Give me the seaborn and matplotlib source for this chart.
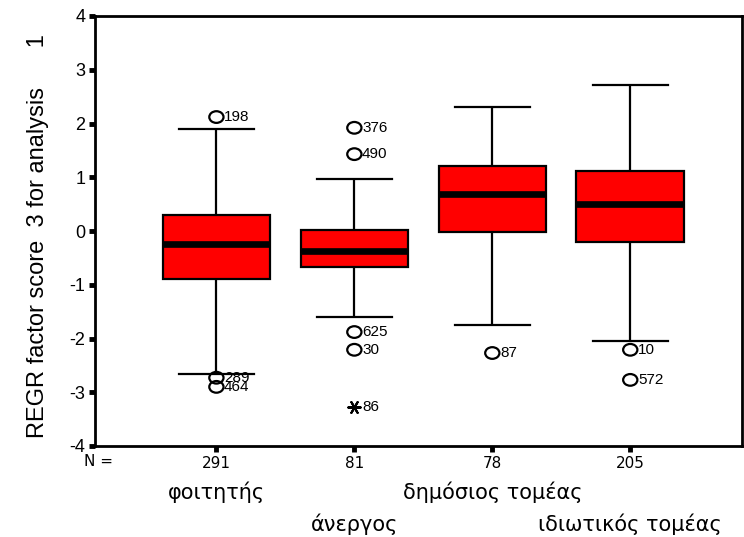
import numpy as np
import pandas as pd
import matplotlib
matplotlib.use("Agg")
import matplotlib.pyplot as plt
from matplotlib.path import Path
from matplotlib.transforms import Affine2D
import seaborn as sns

# Occupation groups and sample sizes
groups = ["φοιτητής", "άνεργος", "δημόσιος τομέας", "ιδιωτικός τομέας"]
counts = [291, 81, 78, 205]

# Five-number summaries of the factor score per group
whisker_low = [-2.66, -1.60, -1.75, -2.05]
quartile_1 = [-0.89, -0.67, -0.02, -0.20]
medians = [-0.25, -0.37, 0.69, 0.50]
quartile_3 = [0.30, 0.02, 1.21, 1.12]
whisker_high = [1.90, 0.97, 2.31, 2.72]

# Outlying cases (group index, score, case number, extreme flag)
outlier_group = [0, 0, 0, 1, 1, 1, 1, 1, 2, 3, 3]
outlier_value = [2.12, -2.73, -2.90, 1.92, 1.43, -1.88, -2.21, -3.27, -2.27, -2.21, -2.77]
outlier_case = ["198", "289", "464", "376", "490", "625", "30", "86", "87", "10", "572"]
outlier_extreme = [False, False, False, False, False, False, False, True, False, False, False]

plt.rcParams["font.family"] = ["Liberation Sans", "DejaVu Sans"]
plt.rcParams["axes.unicode_minus"] = False

# Long frame holding the summary points of every box
rows = []
for g, lo, q1, md, q3, hi in zip(groups, whisker_low, quartile_1, medians, quartile_3, whisker_high):
    for v in (lo, q1, md, q3, hi):
        rows.append({"group": g, "score": v})
box_df = pd.DataFrame(rows)

out_df = pd.DataFrame({
    "pos": outlier_group,
    "score": outlier_value,
    "case": outlier_case,
    "extreme": outlier_extreme,
})

fig = plt.figure(figsize=(7.44, 5.37), dpi=100)
ax = fig.add_axes([95 / 744, 1 - 446 / 537, 647 / 744, 430 / 537])

sns.boxplot(
    data=box_df, x="group", y="score", order=groups, ax=ax,
    width=0.78, color="#ff0000", saturation=1, linecolor="black",
    linewidth=1.6, showfliers=False, whis=1.5,
    medianprops=dict(linewidth=4.8, color="black"),
    capwidths=0.54,
)

# Outliers: open ellipses; extremes: asterisks
ellipse = Path.unit_circle().transformed(Affine2D().scale(1.0, 0.82))
mild = out_df[~out_df["extreme"]]
far = out_df[out_df["extreme"]]
sns.scatterplot(data=mild, x="pos", y="score", ax=ax, marker=ellipse, s=105,
                facecolor="none", edgecolor="black", linewidth=1.6, zorder=5, legend=False)
sns.scatterplot(data=far, x="pos", y="score", ax=ax, marker=(6, 2, 90), s=80,
                color="black", linewidth=1.5, zorder=5, legend=False)
for _, r in out_df.iterrows():
    ax.annotate(r["case"], (r["pos"], r["score"]), xytext=(5.5, 0),
                textcoords="offset points", ha="left", va="center", fontsize=11)

ax.set_ylim(-4, 4)
ax.set_xlim(-0.88, 3.81)
ax.set_yticks(range(-4, 5))
ax.set_xticks(range(len(groups)))
ax.set_xticklabels([str(c) for c in counts], fontsize=11, family=["DejaVu Sans"])
ax.tick_params(axis="y", labelsize=13, length=4, width=3.5, pad=3)
ax.tick_params(axis="x", length=4, width=3.5, pad=3)
ax.set_xlabel("")
ax.set_ylabel("")
for sp in ax.spines.values():
    sp.set_linewidth(2)
    sp.set_color("black")

ax.text(0.006, -0.037, "N =", transform=ax.transAxes, ha="center", va="center",
        fontsize=11, family=["DejaVu Sans"])

# Staggered group names beneath the counts
trans = ax.get_xaxis_transform()
for i, g in enumerate(groups):
    yy = -0.107 if i % 2 == 0 else -0.181
    ax.text(i, yy, g, transform=trans, ha="center", va="center", fontsize=15,
            family=["DejaVu Sans"])

fig.text(38 / 744, 1 - 236 / 537, "REGR factor score  3 for analysis      1",
         rotation=90, ha="center", va="center", fontsize=17)

fig.savefig("out.png", dpi=100)
